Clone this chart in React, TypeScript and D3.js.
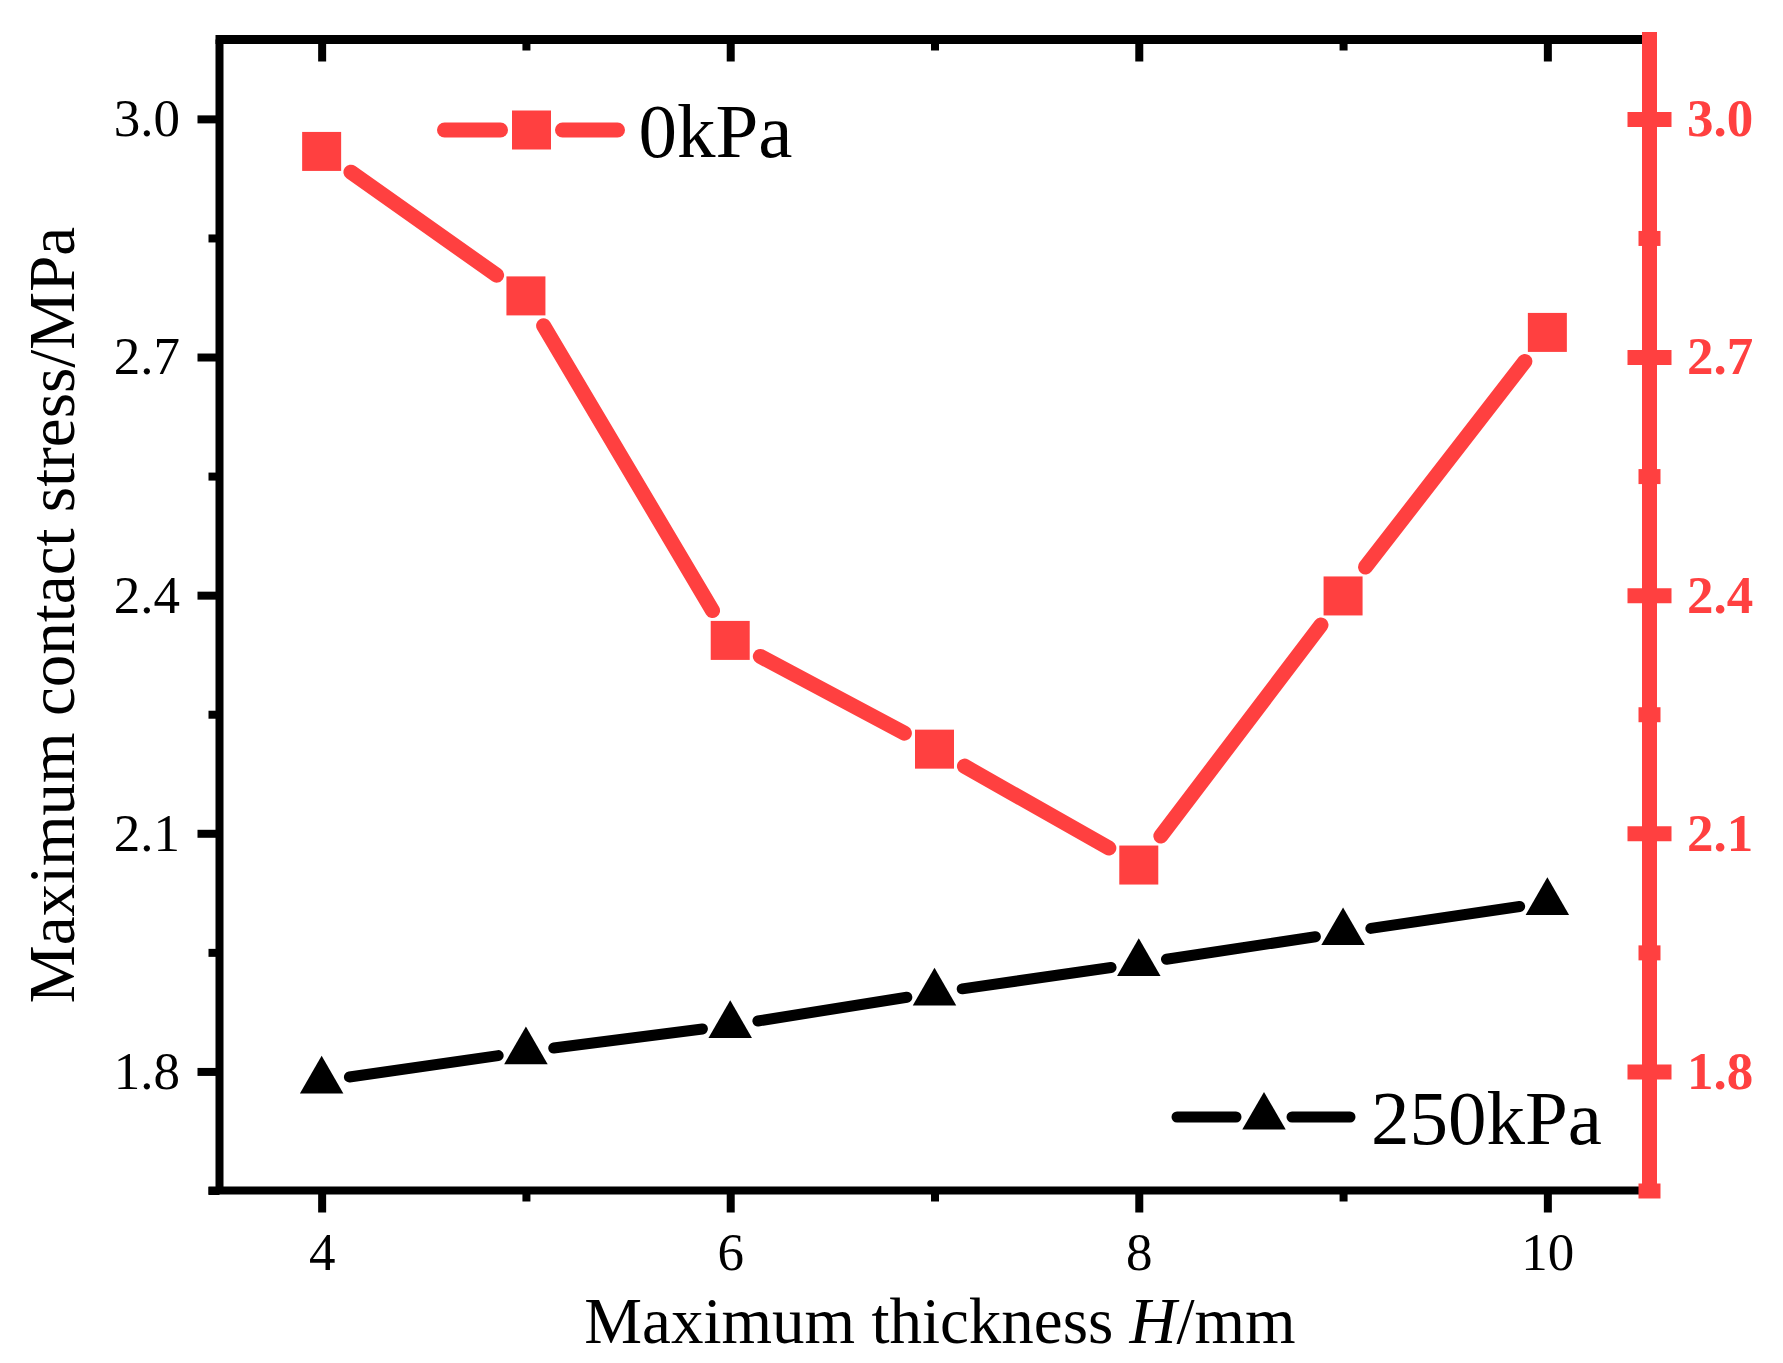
import { useEffect, useRef } from "react";
import * as d3 from "d3";

// thickness H (mm)
const thickness = [4, 5, 6, 7, 8, 9, 10];
// maximum contact stress (MPa)
const stress0kPa = [2.959, 2.777, 2.343, 2.206, 2.06, 2.399, 2.731];
const stress250kPa = [1.788, 1.825, 1.858, 1.899, 1.936, 1.975, 2.013];

const xMajor = [4, 6, 8, 10];
const xMinor = [5, 7, 9];
const yMajor = [1.8, 2.1, 2.4, 2.7, 3.0];
const yMinor = [1.65, 1.95, 2.25, 2.55, 2.85];

const seriesNames = ["0kPa", "250kPa"];

const RED = "#ff4040";
const FONT = "'Liberation Serif', 'Times New Roman', serif";

export default function App() {
  const ref = useRef<SVGSVGElement | null>(null);

  useEffect(() => {
    const width = 1783;
    const height = 1363;
    const svg = d3.select(ref.current).attr("width", width).attr("height", height);
    svg.selectAll("*").remove();

    const x = d3.scaleLinear().domain([3.5, 10.5]).range([219.5, 1649.5]);
    const y = d3.scaleLinear().domain([1.65, 3.1]).range([1190.5, 39.5]);
    const [left, right] = x.range();
    const [bottom, top] = y.range();

    svg.append("rect").attr("width", width).attr("height", height).attr("fill", "#fff");

    // gapped polyline (line stops short of markers)
    const drawSeries = (vals: number[], color: string, lw: number, gapFn: (ux: number, uy: number) => number) => {
      const pts = thickness.map((t, i) => [x(t), y(vals[i])]);
      for (let i = 0; i < pts.length - 1; i++) {
        const [x0, y0] = pts[i];
        const [x1, y1] = pts[i + 1];
        const len = Math.hypot(x1 - x0, y1 - y0);
        const ux = (x1 - x0) / len;
        const uy = (y1 - y0) / len;
        const g = gapFn(ux, uy);
        svg
          .append("line")
          .attr("x1", x0 + ux * g)
          .attr("y1", y0 + uy * g)
          .attr("x2", x1 - ux * g)
          .attr("y2", y1 - uy * g)
          .attr("stroke", color)
          .attr("stroke-width", lw)
          .attr("stroke-linecap", "round");
      }
      return pts;
    };

    const sq = 39;
    const redPts = drawSeries(stress0kPa, RED, 15, (ux, uy) => sq / 2 / Math.max(Math.abs(ux), Math.abs(uy)) + 12);
    const blackPts = drawSeries(stress250kPa, "#000", 11, () => 28);

    const side = 43.5;
    const th = (side * Math.sqrt(3)) / 2;
    const triPath = `M0,${-(2 * th) / 3}L${side / 2},${th / 3}L${-side / 2},${th / 3}Z`;

    svg
      .selectAll("rect.sq")
      .data(redPts)
      .enter()
      .append("rect")
      .attr("class", "sq")
      .attr("x", (d) => d[0] - sq / 2)
      .attr("y", (d) => d[1] - sq / 2)
      .attr("width", sq)
      .attr("height", sq)
      .attr("fill", RED);

    svg
      .selectAll("path.tri")
      .data(blackPts)
      .enter()
      .append("path")
      .attr("class", "tri")
      .attr("d", triPath)
      .attr("transform", (d) => `translate(${d[0]},${d[1]})`)
      .attr("fill", "#000");

    // axes
    const styleTicks = (g: any, color: string, w: number) => {
      g.select(".domain").remove();
      g.selectAll(".tick line").attr("stroke", color).attr("stroke-width", w);
      g.selectAll(".tick text").attr("fill", color).attr("font-family", FONT).attr("font-size", 53);
    };

    svg
      .append("g")
      .attr("transform", `translate(${left},0)`)
      .call(d3.axisLeft(y).tickValues(yMajor).tickSize(22).tickPadding(17.5).tickFormat(d3.format(".1f")))
      .call((g: any) => styleTicks(g, "#000", 8));
    svg
      .append("g")
      .attr("transform", `translate(${left},0)`)
      .call(d3.axisLeft(y).tickValues(yMinor).tickSize(11).tickFormat(() => ""))
      .call((g: any) => styleTicks(g, "#000", 8));

    svg
      .append("g")
      .attr("transform", `translate(0,${bottom})`)
      .call(d3.axisBottom(x).tickValues(xMajor).tickSize(22).tickPadding(20).tickFormat(d3.format("d")))
      .call((g: any) => styleTicks(g, "#000", 8));
    svg
      .append("g")
      .attr("transform", `translate(0,${bottom})`)
      .call(d3.axisBottom(x).tickValues(xMinor).tickSize(11).tickFormat(() => ""))
      .call((g: any) => styleTicks(g, "#000", 8));

    svg
      .append("g")
      .attr("transform", `translate(0,${top})`)
      .call(d3.axisTop(x).tickValues(xMajor).tickSize(-22).tickFormat(() => ""))
      .call((g: any) => styleTicks(g, "#000", 8));
    svg
      .append("g")
      .attr("transform", `translate(0,${top})`)
      .call(d3.axisTop(x).tickValues(xMinor).tickSize(-11).tickFormat(() => ""))
      .call((g: any) => styleTicks(g, "#000", 8));

    // frame
    svg
      .append("line")
      .attr("x1", left - 11)
      .attr("x2", right)
      .attr("y1", bottom)
      .attr("y2", bottom)
      .attr("stroke", "#000")
      .attr("stroke-width", 8);
    svg
      .append("line")
      .attr("x1", left - 4)
      .attr("x2", right)
      .attr("y1", top)
      .attr("y2", top)
      .attr("stroke", "#000")
      .attr("stroke-width", 9);
    svg
      .append("line")
      .attr("x1", left)
      .attr("x2", left)
      .attr("y1", top)
      .attr("y2", bottom)
      .attr("stroke", "#000")
      .attr("stroke-width", 8);

    // right red axis
    const rightAxis = svg
      .append("g")
      .attr("transform", `translate(${right},0)`)
      .call(d3.axisRight(y).tickValues(yMajor).tickSize(22).tickPadding(15.5).tickFormat(d3.format(".1f")))
      .call((g: any) => styleTicks(g, RED, 15));
    rightAxis.selectAll(".tick line").attr("x1", -22);
    rightAxis.selectAll(".tick text").attr("font-weight", "bold");
    const rightMinor = svg
      .append("g")
      .attr("transform", `translate(${right},0)`)
      .call(d3.axisRight(y).tickValues(yMinor).tickSize(11).tickFormat(() => ""))
      .call((g: any) => styleTicks(g, RED, 15));
    rightMinor.selectAll(".tick line").attr("x1", -11);
    svg
      .append("line")
      .attr("x1", right)
      .attr("x2", right)
      .attr("y1", top)
      .attr("y2", bottom)
      .attr("stroke", RED)
      .attr("stroke-width", 15)
      .attr("stroke-linecap", "square");

    // axis titles
    svg
      .append("text")
      .attr("transform", `translate(74,${(top + bottom) / 2}) rotate(-90)`)
      .attr("text-anchor", "middle")
      .attr("font-family", FONT)
      .attr("font-size", 65)
      .attr("fill", "#000")
      .text("Maximum contact stress/MPa");

    const xt = svg
      .append("text")
      .attr("x", 940)
      .attr("y", 1343)
      .attr("text-anchor", "middle")
      .attr("font-family", FONT)
      .attr("font-size", 65)
      .attr("fill", "#000");
    xt.append("tspan").text("Maximum thickness ");
    xt.append("tspan").attr("font-style", "italic").text("H");
    xt.append("tspan").text("/mm");

    // legends
    const legend = (
      cx: number,
      cy: number,
      color: string,
      lw: number,
      gap: number,
      label: string,
      marker: (g: any) => void
    ) => {
      const g = svg.append("g").attr("transform", `translate(${cx},${cy})`);
      [
        [-87, -gap],
        [gap, 86],
      ].forEach(([a, b]) => {
        g.append("line")
          .attr("x1", a)
          .attr("x2", b)
          .attr("y1", 0)
          .attr("y2", 0)
          .attr("stroke", color)
          .attr("stroke-width", lw)
          .attr("stroke-linecap", "round");
      });
      marker(g);
      g.append("text")
        .attr("x", 107)
        .attr("y", 27)
        .attr("font-family", FONT)
        .attr("font-size", 77)
        .attr("fill", "#000")
        .text(label);
    };

    legend(531.5, 130, RED, 15, 31, seriesNames[0], (g) =>
      g.append("rect").attr("x", -sq / 2).attr("y", -sq / 2).attr("width", sq).attr("height", sq).attr("fill", RED)
    );
    legend(1264, 1117, "#000", 11, 28, seriesNames[1], (g) => g.append("path").attr("d", triPath).attr("fill", "#000"));
  }, []);

  return (
    <div style={{ position: "absolute", left: 0, top: 0, background: "#fff" }}>
      <svg ref={ref} style={{ display: "block" }} />
    </div>
  );
}
